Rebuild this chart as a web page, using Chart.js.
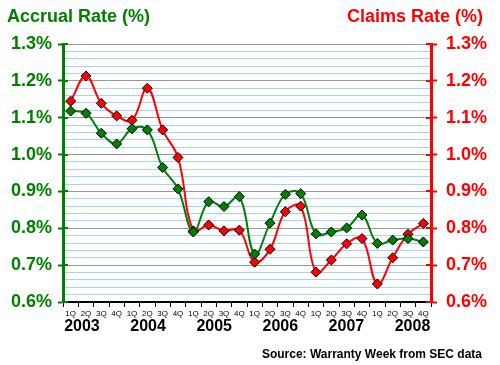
<!DOCTYPE html>
<html>
<head>
<meta charset="utf-8">
<script src="https://cdn.jsdelivr.net/npm/chart.js@4.4.0/dist/chart.umd.min.js"></script>
<style>
  html, body { margin: 0; padding: 0; background: #fff; }
  #wrap { position: relative; width: 500px; height: 365px; }
  #wrap canvas { position: absolute; left: 0; top: 0; }
  .lbl { position: absolute; font-family: 'Liberation Sans', Arial, sans-serif; font-weight: bold; white-space: nowrap; line-height: 1; }
</style>
</head>
<body>
<div id="wrap">
  <canvas id="rateChart" width="500" height="365"></canvas>
  <div class="lbl" style="left:7px;top:7px;font-size:18px;color:#008000">Accrual Rate (%)</div>
  <div class="lbl" style="right:17px;top:7px;font-size:18px;color:#ff0000">Claims Rate (%)</div>
  <div class="lbl" style="right:18px;top:348px;font-size:12px;color:#000">Source: Warranty Week from SEC data</div>
</div>
<script>
// quarterly warranty rates, 2003-2008
const years = [2003, 2004, 2005, 2006, 2007, 2008];
const quarterNames = ['1Q', '2Q', '3Q', '4Q'];

const accrualRate = [
  1.118, 1.112, 1.058, 1.029,
  1.070, 1.067, 0.965, 0.907,
  0.790, 0.872, 0.859, 0.886,
  0.730, 0.814, 0.892, 0.894,
  0.785, 0.790, 0.801, 0.836,
  0.759, 0.768, 0.772, 0.763
];
const claimsRate = [
  1.145, 1.213, 1.139, 1.105,
  1.093, 1.180, 1.067, 0.992,
  0.793, 0.809, 0.793, 0.795,
  0.708, 0.743, 0.845, 0.860,
  0.681, 0.714, 0.758, 0.772,
  0.649, 0.720, 0.784, 0.813
];

const rateMin = 0.6, rateMax = 1.3, minorStep = 0.02;

const GREEN = '#008000';
const RED = '#ff0000';
const FONT = "'Liberation Sans', Arial, sans-serif";

const labels = [];
years.forEach(() => quarterNames.forEach(q => labels.push(q)));

const isMajor = v => Math.abs(v * 10 - Math.round(v * 10)) < 1e-6;

// small tick stubs that poke into the plot area on both value axes
const innerTicks = {
  id: 'innerTicks',
  afterDraw(chart) {
    const ctx = chart.ctx;
    const area = chart.chartArea;
    ctx.save();
    ctx.lineWidth = 2;
    [['y', GREEN, area.left, 5], ['y1', RED, area.right, -5]].forEach(([id, color, x0, len]) => {
      const sc = chart.scales[id];
      ctx.strokeStyle = color;
      sc.ticks.forEach(t => {
        if (!isMajor(t.value)) return;
        const py = Math.round(sc.getPixelForValue(t.value));
        ctx.beginPath();
        ctx.moveTo(x0, py);
        ctx.lineTo(x0 + len, py);
        ctx.stroke();
      });
    });
    ctx.restore();
  }
};

function valueAxis(color, position, width, tickLen, pad, onChart) {
  return {
    type: 'linear',
    position,
    min: rateMin,
    max: rateMax,
    afterFit: s => { s.width = width; },
    border: { color, width: 3 },
    grid: {
      drawOnChartArea: onChart,
      color: c => isMajor(c.tick.value) ? '#999999' : '#a6d2ff',
      lineWidth: 1,
      tickLength: tickLen,
      tickWidth: 2,
      tickColor: c => isMajor(c.tick.value) ? color : 'rgba(0,0,0,0)'
    },
    ticks: {
      stepSize: minorStep,
      autoSkip: false,
      padding: pad,
      color,
      font: { family: FONT, size: 18, weight: 'bold' },
      callback: v => isMajor(v) ? v.toFixed(1) + '%' : ''
    }
  };
}

new Chart(document.getElementById('rateChart'), {
  type: 'line',
  data: {
    labels,
    datasets: [
      {
        label: 'Accrual Rate (%)',
        data: accrualRate,
        yAxisID: 'y',
        borderColor: GREEN,
        backgroundColor: GREEN,
        borderWidth: 2,
        tension: 0.4,
        pointStyle: 'rectRot',
        pointRadius: 5,
        pointBorderColor: '#000',
        pointBorderWidth: 1,
        pointBackgroundColor: GREEN
      },
      {
        label: 'Claims Rate (%)',
        data: claimsRate,
        yAxisID: 'y1',
        borderColor: RED,
        backgroundColor: RED,
        borderWidth: 2,
        tension: 0.4,
        pointStyle: 'rectRot',
        pointRadius: 5,
        pointBorderColor: '#000',
        pointBorderWidth: 1,
        pointBackgroundColor: RED
      }
    ]
  },
  options: {
    responsive: false,
    animation: false,
    devicePixelRatio: 1,
    layout: { padding: { top: 44, left: 0, right: 0, bottom: 0 } },
    plugins: {
      legend: { display: false },
      title: { display: false },
      tooltip: { enabled: false }
    },
    scales: {
      x: {
        type: 'category',
        position: 'bottom',
        weight: 0,
        offset: true,
        afterFit: s => { s.height = 16; },
        border: { color: '#000', width: 2 },
        grid: { offset: true, drawOnChartArea: false, tickLength: 5, tickColor: '#000', tickWidth: 1 },
        ticks: { autoSkip: false, maxRotation: 0, padding: 2, color: '#000', font: { family: FONT, size: 8 } }
      },
      x2: {
        type: 'linear',
        position: 'bottom',
        weight: 1,
        min: 2002.713,
        max: 2008.28,
        afterFit: s => { s.height = 47; },
        afterBuildTicks: s => { s.ticks = years.map(v => ({ value: v })); },
        border: { display: false },
        grid: { display: false, drawTicks: false },
        ticks: {
          autoSkip: false,
          maxRotation: 0,
          padding: 1,
          color: '#000',
          font: { family: FONT, size: 16, weight: 'bold', lineHeight: 1 },
          callback: v => String(v)
        }
      },
      y: valueAxis(GREEN, 'left', 63, 5, 6, true),
      y1: valueAxis(RED, 'right', 69, 6, 9, false)
    }
  },
  plugins: [innerTicks]
});
</script>
</body>
</html>
